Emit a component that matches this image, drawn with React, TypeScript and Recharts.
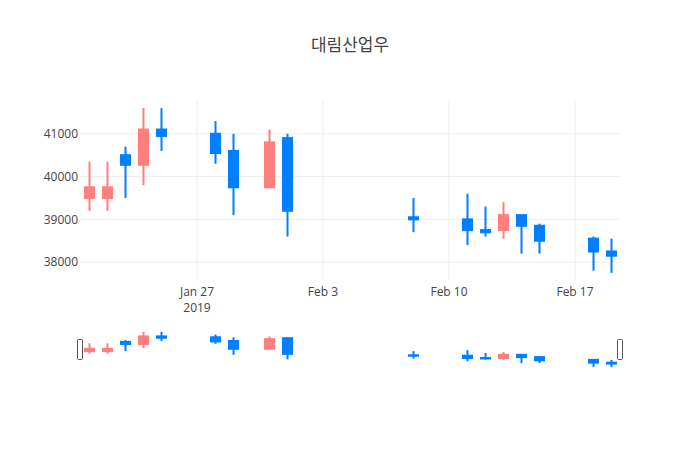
import React from 'react';
import { ComposedChart, Bar, XAxis, YAxis, CartesianGrid, ReferenceLine } from 'recharts';

const title = '대림산업우';
const dates = ['2019-01-21', '2019-01-22', '2019-01-23', '2019-01-24', '2019-01-25', '2019-01-28', '2019-01-29', '2019-01-31', '2019-02-01', '2019-02-08', '2019-02-11', '2019-02-12', '2019-02-13', '2019-02-14', '2019-02-15', '2019-02-18', '2019-02-19'];
const openVals = [39500, 39500, 40500, 40275, 41100, 41000, 40600, 39750, 40900, 39050, 39000, 38750, 38750, 39100, 38850, 38550, 38250];
const highVals = [40350, 40350, 40700, 41600, 41600, 41300, 41000, 41100, 41000, 39500, 39600, 39300, 39400, 39100, 38900, 38600, 38550];
const lowVals = [39200, 39200, 39500, 39800, 40600, 40300, 39100, 39750, 38600, 38700, 38400, 38600, 38550, 38200, 38200, 37800, 37750];
const closeVals = [39750, 39750, 40275, 41100, 40950, 40550, 39750, 40800, 39200, 39000, 38750, 38700, 39100, 38850, 38500, 38250, 38150];

const tickDates = ['2019-01-27', '2019-02-03', '2019-02-10', '2019-02-17'];
const tickLabels = ['Jan 27', 'Feb 3', 'Feb 10', 'Feb 17'];
const tickYear = '2019';
const yTicks = [38000, 39000, 40000, 41000];
const yDomain: [number, number] = [37560, 41790];

const RED = '#ff7f7f';
const BLUE = '#007fff';
const FONT = '"Open Sans", "Noto Sans CJK KR", sans-serif';
const DAY = 86400000;

const data = dates.map((d, i) => ({
  t: Date.parse(d + 'T00:00:00Z'),
  o: openVals[i],
  h: highVals[i],
  l: lowVals[i],
  c: closeVals[i],
}));
const tickValues = tickDates.map((d) => Date.parse(d + 'T00:00:00Z'));
const xDomain: [number, number] = [data[0].t - DAY / 2, data[data.length - 1].t + DAY / 2];

const Candle = (props: any) => {
  const { x, y, width, height, index } = props;
  const p = props.payload && props.payload.o !== undefined ? props.payload : data[index];
  if (x == null || y == null) return null;
  const top = Math.min(y, y + height);
  const h = Math.abs(height);
  const span = p.h - p.l;
  const py = (v: number) => (span === 0 ? top : top + ((p.h - v) / span) * h);
  const color = p.c >= p.o ? RED : BLUE;
  const cx = x + width / 2;
  const bt = py(Math.max(p.o, p.c));
  const bb = py(Math.min(p.o, p.c));
  return (
    <g>
      <line x1={cx} x2={cx} y1={top} y2={top + h} stroke={color} strokeWidth={2} />
      <rect x={x + 1} y={bt} width={width - 2} height={Math.max(bb - bt, 0)} fill={color} stroke={color} strokeWidth={2} />
    </g>
  );
};

const XTick = (props: any) => {
  const { x, y, payload } = props;
  const i = tickValues.indexOf(payload.value);
  return (
    <text textAnchor="middle" fontFamily={FONT} fontSize={12} fill="#444">
      <tspan x={x} y={y + 15}>{tickLabels[i]}</tspan>
      {i === 0 ? <tspan x={x} y={y + 30.6}>{tickYear}</tspan> : null}
    </text>
  );
};

const Handle = (props: any) => {
  const { x1, y1, y2 } = props;
  const mid = (y1 + y2) / 2;
  return <rect x={x1 - 2.5} y={mid - 10} width={5} height={20} rx={1} fill="#fff" stroke="#555" strokeWidth={1} />;
};

const hGen = (p: any) => {
  const o = p && p.offset;
  if (!o) return [];
  return yTicks.map((v) => o.top + ((yDomain[1] - v) / (yDomain[1] - yDomain[0])) * o.height);
};
const vGen = (p: any) => {
  const o = p && p.offset;
  if (!o) return [];
  return tickValues.map((v) => o.left + ((v - xDomain[0]) / (xDomain[1] - xDomain[0])) * o.width);
};

export default function App() {
  return (
    <div style={{ position: 'absolute', left: 0, top: 0, width: 700, height: 450, background: '#fff' }}>
      <svg width={700} height={60} style={{ position: 'absolute', left: 0, top: 0 }}>
        <text x={350} y={51} textAnchor="middle" fontFamily={FONT} fontSize={17} fill="#444">{title}</text>
      </svg>
      <div style={{ position: 'absolute', left: 0, top: 0 }}>
        <ComposedChart width={700} height={330} data={data} margin={{ top: 100, right: 80, left: 20, bottom: 0 }}>
          <CartesianGrid
            stroke="#eee"
            strokeWidth={1}
            horizontalCoordinatesGenerator={hGen}
            verticalCoordinatesGenerator={vGen}
          />
          <XAxis
            dataKey="t"
            type="number"
            scale="time"
            domain={xDomain}
            ticks={tickValues}
            allowDataOverflow
            axisLine={false}
            tickLine={false}
            tickSize={0}
            tickMargin={0}
            height={49}
            tick={<XTick />}
            interval={0}
          />
          <YAxis
            type="number"
            domain={yDomain}
            ticks={yTicks}
            allowDataOverflow
            axisLine={false}
            tickLine={false}
            tickSize={0}
            tickMargin={2}
            width={60}
            tick={{ fontSize: 12, fill: '#444', fontFamily: FONT }}
            interval={0}
          />
          <Bar dataKey={(d: any) => [d.l, d.h]} barSize={11} shape={<Candle />} isAnimationActive={false} />
        </ComposedChart>
      </div>
      <div style={{ position: 'absolute', left: 0, top: 330 }}>
        <ComposedChart width={700} height={39} data={data} margin={{ top: 0, right: 80, left: 80, bottom: 0 }}>
          <XAxis dataKey="t" type="number" scale="time" domain={xDomain} allowDataOverflow hide />
          <YAxis type="number" domain={yDomain} allowDataOverflow hide />
          <Bar dataKey={(d: any) => [d.l, d.h]} barSize={11} shape={<Candle />} isAnimationActive={false} />
          <ReferenceLine x={xDomain[0]} shape={<Handle />} ifOverflow="visible" />
          <ReferenceLine x={xDomain[1]} shape={<Handle />} ifOverflow="visible" />
        </ComposedChart>
      </div>
    </div>
  );
}
